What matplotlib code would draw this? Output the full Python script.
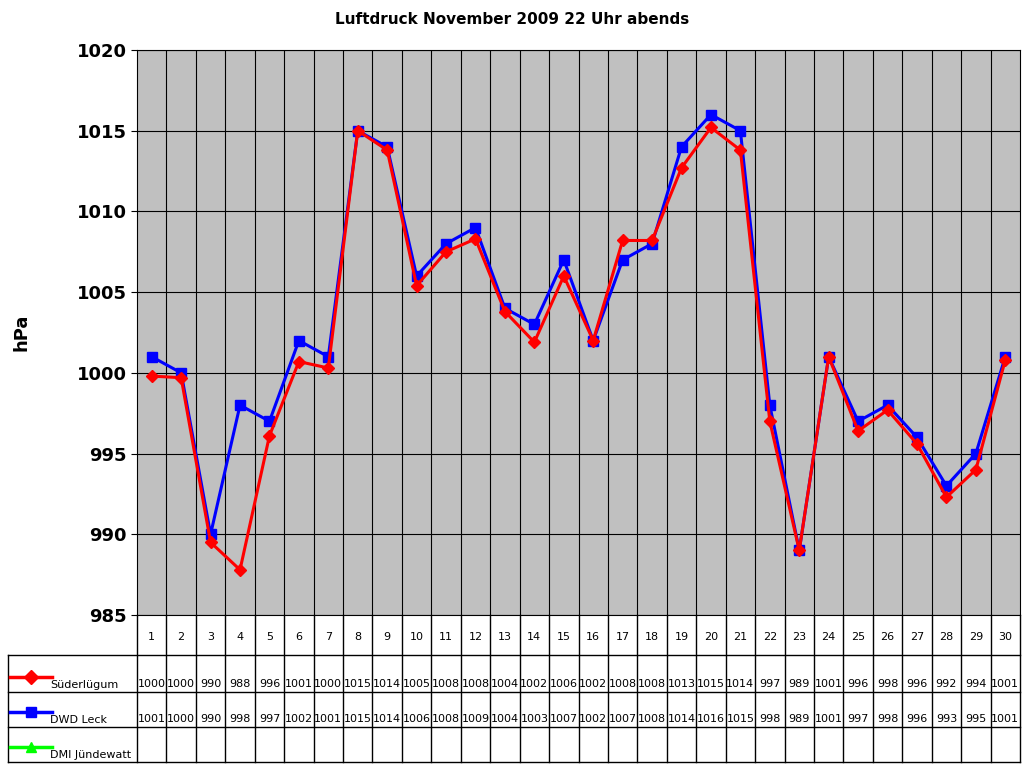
import numpy as np
import matplotlib.pyplot as plt
from matplotlib.lines import Line2D

days = list(range(1, 31))
suederluegum = [999.8, 999.7, 989.5, 987.8, 996.1, 1000.7, 1000.3, 1015.0, 1013.8, 1005.4,
                1007.5, 1008.3, 1003.8, 1001.9, 1006.0, 1002.0, 1008.2, 1008.2, 1012.7, 1015.2,
                1013.8, 997.0, 989.0, 1001.0, 996.4, 997.7, 995.6, 992.3, 994.0, 1000.8]
dwd_leck = [1001, 1000, 990, 998, 997, 1002, 1001, 1015, 1014, 1006,
            1008, 1009, 1004, 1003, 1007, 1002, 1007, 1008, 1014, 1016,
            1015, 998, 989, 1001, 997, 998, 996, 993, 995, 1001]
series_names = ["Süderlügum", "DWD Leck", "DMI Jündewatt"]
series_colors = ["#ff0000", "#0000ff", "#00ff00"]
series_markers = ["D", "s", "^"]

W, H = 1024, 768
fig = plt.figure(figsize=(W / 100, H / 100), dpi=100)
L, R, T, B = 137, 1020, 50, 615
ax = fig.add_axes([L / W, 1 - B / H, (R - L) / W, (B - T) / H])
ax.set_facecolor("#c0c0c0")
ax.set_xlim(0.5, 30.5)
ax.set_ylim(985, 1020)
ax.set_yticks(np.arange(985, 1021, 5))
ax.set_yticklabels([str(v) for v in range(985, 1021, 5)], fontsize=13, fontweight="bold")
ax.set_xticks([])
for v in range(985, 1021, 5):
    ax.axhline(v, color="black", lw=0.8, zorder=1)
for x in np.arange(1.5, 30.5, 1):
    ax.axvline(x, color="black", lw=0.8, zorder=1)
ax.tick_params(axis="y", length=4)
for s in ax.spines.values():
    s.set_linewidth(0.8)

ax.plot(days, suederluegum, color="red", marker="D", ms=6, lw=2.2, zorder=3)
ax.plot(days, dwd_leck, color="blue", marker="s", ms=7.5, lw=2.2, zorder=2)
fig.text(22 / W, 1 - 332 / H, "hPa", rotation=90, ha="center", va="center",
         fontsize=13, fontweight="bold")
fig.text(0.5, 1 - 20 / H, "Luftdruck November 2009 22 Uhr abends", ha="center", va="center",
         fontsize=11, fontweight="bold")

# data table below the chart
tb = fig.add_axes([L / W, 1 - 762 / H, (R - L) / W, (762 - B) / H])
tb.set_xlim(0.5, 30.5)
tb.set_ylim(762, B)
tb.axis("off")
px = (R - L) / 30.0
x_left = 0.5 + (8 - L) / px
for x in np.arange(0.5, 31, 1):
    tb.plot([x, x], [B, 762], color="black", lw=1, clip_on=False)
for y in [655, 692, 727, 762]:
    tb.plot([x_left, 30.5], [y, y], color="black", lw=1, clip_on=False)
tb.plot([x_left, x_left], [655, 762], color="black", lw=1, clip_on=False)
for d in days:
    tb.text(d, 637, str(d), ha="center", va="center", fontsize=8)
rows_y = [684, 719, 754]
row_vals = [suederluegum, dwd_leck, None]
sx0 = x_left + 2 / px
sx1 = x_left + 44 / px
for i, name in enumerate(series_names):
    y = rows_y[i]
    tb.add_line(Line2D([sx0, (sx0 + sx1) / 2, sx1], [y - 7] * 3, color=series_colors[i], lw=2.5,
                       marker=series_markers[i], markevery=[1], ms=7, clip_on=False))
    tb.text(x_left + 42 / px, y + 1, name, ha="left", va="center", fontsize=8)
    if row_vals[i] is not None:
        for d, v in zip(days, row_vals[i]):
            tb.text(d, y, f"{v:.0f}", ha="center", va="center", fontsize=8)

fig.savefig("out.png", dpi=100)
